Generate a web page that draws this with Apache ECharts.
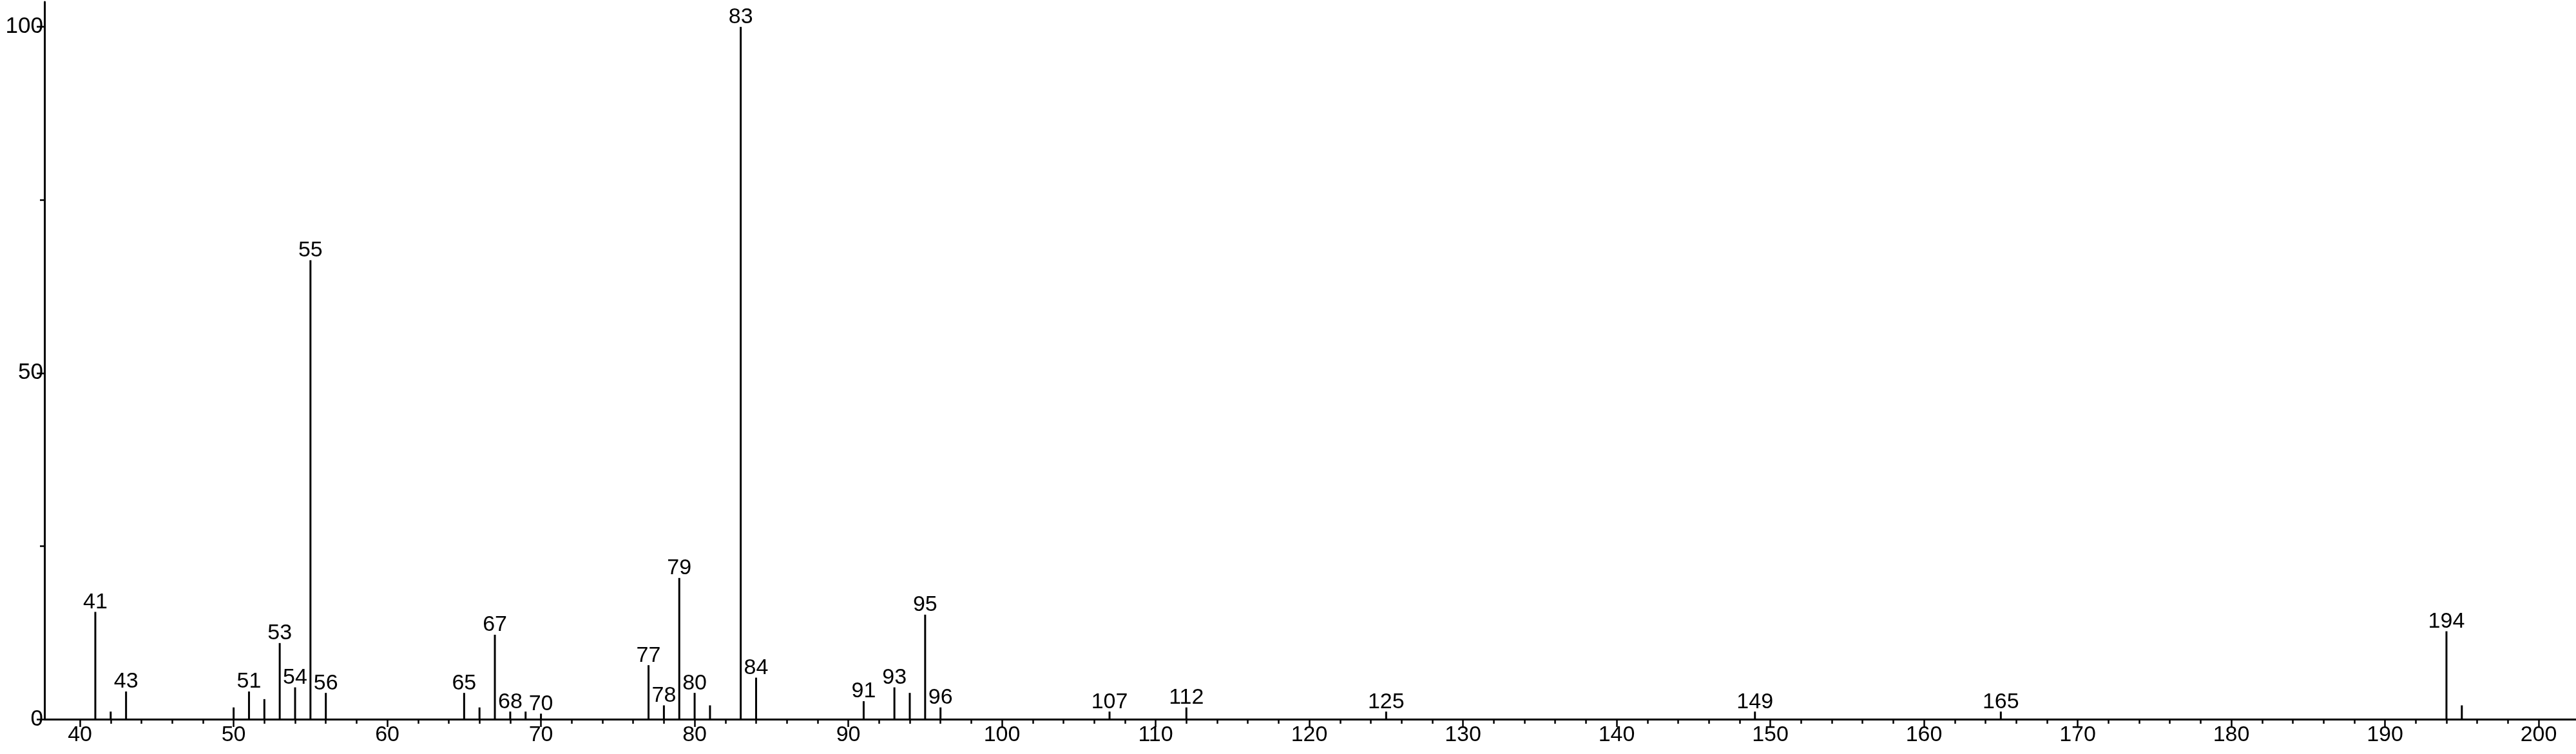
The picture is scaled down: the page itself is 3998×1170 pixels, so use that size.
<!DOCTYPE html>
<html>
<head>
<meta charset="utf-8">
<script src="https://cdn.jsdelivr.net/npm/echarts@6/dist/echarts.min.js"></script>
<style>
  html, body { margin: 0; padding: 0; background: #fff; }
  #main { width: 3998px; height: 1170px; }
</style>
</head>
<body>
<div id="main"></div>
<script>
  // m/z and relative intensity
  var mz        = [41, 42, 43, 50, 51, 52, 53, 54, 55, 56, 65, 66, 67, 68, 69, 70,
                   77, 78, 79, 80, 81, 83, 84, 91, 93, 94, 95, 96, 107, 112, 125, 149, 165, 194, 195];
  var intensity = [15.5, 1.1, 4.0, 1.7, 4.0, 2.9, 11.0, 4.6, 66.3, 3.8, 3.8, 1.7, 12.2, 1.1, 1.1, 0.8,
                   7.8, 2.0, 20.4, 3.8, 2.0, 100, 6.0, 2.6, 4.6, 3.8, 15.1, 1.7, 1.1, 1.7, 1.1, 1.1, 1.1, 12.7, 2.0];
  // peaks that carry an m/z label
  var labeled   = [41, 43, 51, 53, 54, 55, 56, 65, 67, 68, 70, 77, 78, 79, 80, 83, 84,
                   91, 93, 95, 96, 107, 112, 125, 149, 165, 194];

  var xTicks = [40, 50, 60, 70, 80, 90, 100, 110, 120, 130, 140, 150, 160, 170, 180, 190, 200];
  var yTicks = [0, 50, 100];
  var yMinorTicks = [25, 75];
  var xMinorTicks = [];
  for (var t = 42; t < 202; t += 2) {
    if (t % 10 !== 0) xMinorTicks.push(t);
  }

  var xMin = 37.69, xMax = 202.43;
  var yMin = 0, yMax = 103.6;
  var font = 'Liberation Sans, Arial, sans-serif';

  var peaks = mz.map(function (m, i) {
    return {
      value: [m, intensity[i]],
      label: { show: labeled.indexOf(m) >= 0 }
    };
  });

  var option = {
    animation: false,
    backgroundColor: '#ffffff',
    grid: { left: 69, right: 0, top: 3, bottom: 54 },
    xAxis: [
      {
        type: 'value', min: xMin, max: xMax,
        splitLine: { show: false },
        axisLine: { show: true, lineStyle: { color: '#000', width: 3 } },
        axisTick: { show: true, customValues: xTicks, length: 12, lineStyle: { color: '#000', width: 2.5 } },
        axisLabel: { customValues: xTicks, color: '#000', fontSize: 34, fontFamily: font, margin: 8 }
      },
      {
        type: 'value', min: xMin, max: xMax, position: 'bottom',
        splitLine: { show: false },
        axisLine: { show: false },
        axisTick: { show: true, customValues: xMinorTicks, length: 7, lineStyle: { color: '#000', width: 2.5 } },
        axisLabel: { show: false }
      }
    ],
    yAxis: [
      {
        type: 'value', min: yMin, max: yMax,
        splitLine: { show: false },
        axisLine: { show: true, lineStyle: { color: '#000', width: 3 } },
        axisTick: { show: true, customValues: yTicks, length: 12, lineStyle: { color: '#000', width: 2.5 } },
        axisLabel: { customValues: yTicks, color: '#000', fontSize: 35, fontFamily: font, margin: 2 }
      },
      {
        type: 'value', min: yMin, max: yMax, position: 'left',
        splitLine: { show: false },
        axisLine: { show: false },
        axisTick: { show: true, customValues: yMinorTicks, length: 7, lineStyle: { color: '#000', width: 2.5 } },
        axisLabel: { show: false }
      }
    ],
    series: [
      {
        type: 'bar',
        xAxisIndex: 0,
        yAxisIndex: 0,
        barWidth: 3,
        itemStyle: { color: '#000' },
        label: {
          position: 'top',
          distance: -2,
          color: '#000',
          fontSize: 34,
          fontFamily: font,
          formatter: function (p) { return p.value[0]; }
        },
        data: peaks
      }
    ]
  };

  var chart = echarts.init(document.getElementById('main'));
  chart.setOption(option);
</script>
</body>
</html>
